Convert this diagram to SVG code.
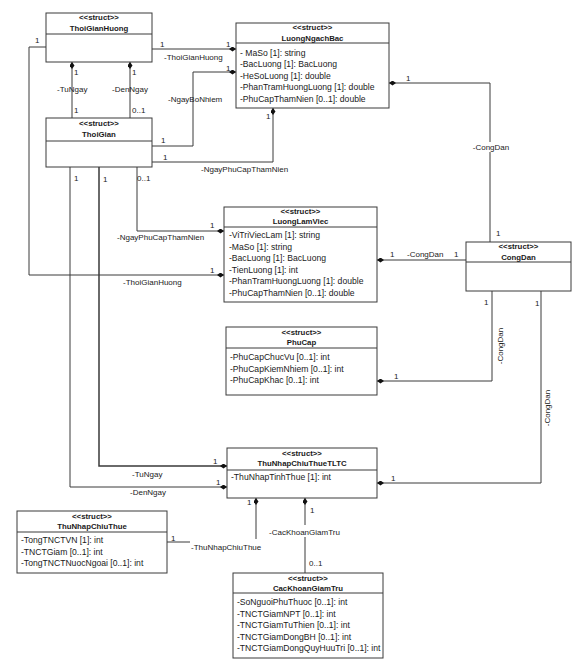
<svg xmlns="http://www.w3.org/2000/svg" width="576" height="670" viewBox="0 0 576 670">
<defs>
<marker id="dia" viewBox="0 0 7 5" refX="7" refY="2.5" markerWidth="7" markerHeight="5" markerUnits="userSpaceOnUse" orient="auto-start-reverse">
<path d="M0,2.5 L3.5,0 L7,2.5 L3.5,5 Z" fill="#111"/>
</marker>
<style>
text{font-family:"Liberation Sans",Arial,sans-serif;fill:#1a1a1a}
.box{fill:#fff;stroke:#3a3a3a;stroke-width:1}
.sep{stroke:#3a3a3a;stroke-width:1}
.st{font-size:7.8px;font-weight:bold;text-anchor:middle}
.at{font-size:8.6px}
.lb{font-size:8px}
.c{fill:none;stroke:#3a3a3a;stroke-width:1}
.bg{fill:#fff}
</style>
</defs>
<rect width="576" height="670" fill="#fff"/>

<g id="connectors">
<path class="c" d="M72,118 L72,62" marker-end="url(#dia)"/>
<path class="c" d="M130,118 L130,62" marker-end="url(#dia)"/>
<path class="c" d="M46,47 L29,47 L29,275 L224,275" marker-end="url(#dia)"/>
<path class="c" d="M152,49 L236,49" marker-end="url(#dia)"/>
<path class="c" d="M152,146 L193,146 L193,72 L236,72" marker-end="url(#dia)"/>
<path class="c" d="M152,162 L273,162 L273,108" marker-end="url(#dia)"/>
<path class="c" d="M490,242 L490,83 L389,83" marker-end="url(#dia)"/>
<path class="c" d="M466,260 L377,260" marker-end="url(#dia)"/>
<path class="c" d="M137,167 L137,231 L224,231" marker-end="url(#dia)"/>
<path class="c" d="M99,167 L99,466 L227,466" marker-end="url(#dia)" style="stroke-width:1.5"/>
<path class="c" d="M70,167 L70,487 L227,487" marker-end="url(#dia)"/>
<path class="c" d="M492,291 L492,381 L377,381" marker-end="url(#dia)"/>
<path class="c" d="M541,291 L541,483 L377,483" marker-end="url(#dia)"/>
<path class="c" d="M167,542 L256,542 L256,498" marker-end="url(#dia)"/>
<path class="c" d="M305,573 L305,498" marker-end="url(#dia)"/>

<text class="lb" x="74" y="75">1</text>
<text class="lb" x="57" y="92">-TuNgay</text>
<text class="lb" x="74" y="113">1</text>
<text class="lb" x="132" y="75">1</text>
<text class="lb" x="112" y="92">-DenNgay</text>
<text class="lb" x="132" y="113">0..1</text>

<text class="lb" x="35" y="43">1</text>
<text class="lb" x="123" y="285">-ThoiGianHuong</text>
<text class="lb" x="210" y="273">1</text>

<text class="lb" x="160" y="47">1</text>
<text class="lb" x="164" y="60">-ThoiGianHuong</text>
<text class="lb" x="226" y="47">1</text>

<text class="lb" x="161" y="143">1</text>
<text class="lb" x="168" y="102">-NgayBoNhiem</text>
<text class="lb" x="226" y="71">1</text>

<text class="lb" x="163" y="160">1</text>
<text class="lb" x="201" y="172">-NgayPhuCapThamNien</text>
<text class="lb" x="266" y="119">1</text>

<text class="lb" x="406" y="81">1</text>
<rect class="bg" x="472" y="142" width="38" height="10"/>
<text class="lb" x="491" y="150" text-anchor="middle">-CongDan</text>
<text class="lb" x="496" y="236">1</text>

<text class="lb" x="390" y="257">1</text>
<text class="lb" x="407" y="257">-CongDan</text>
<text class="lb" x="454" y="257">1</text>

<text class="lb" x="137" y="181">0..1</text>
<text class="lb" x="210" y="228">1</text>
<text class="lb" x="117" y="240">-NgayPhuCapThamNien</text>

<text class="lb" x="103" y="182">1</text>
<text class="lb" x="213" y="464">1</text>
<text class="lb" x="132" y="477">-TuNgay</text>

<text class="lb" x="74" y="181">1</text>
<text class="lb" x="216" y="485">1</text>
<text class="lb" x="130" y="495">-DenNgay</text>

<text class="lb" x="484" y="305">1</text>
<text class="lb" x="394" y="379">1</text>
<text class="lb" transform="translate(503,346) rotate(-90)" text-anchor="middle">-CongDan</text>

<text class="lb" x="535" y="306">1</text>
<text class="lb" x="391" y="481">1</text>
<text class="lb" transform="translate(550,408) rotate(-90)" text-anchor="middle">-CongDan</text>

<text class="lb" x="247" y="505">1</text>
<text class="lb" x="171" y="541">1</text>
<rect class="bg" x="190" y="539" width="72" height="14"/>
<text class="lb" x="191" y="550">-ThuNhapChiuThue</text>

<text class="lb" x="310" y="513">1</text>
<rect class="bg" x="267" y="525" width="76" height="12"/>
<text class="lb" x="269" y="535">-CacKhoanGiamTru</text>
<text class="lb" x="309" y="566">0..1</text>
</g>

<g id="ThoiGianHuong">
<rect class="box" x="46" y="13" width="106" height="49"/>
<line class="sep" x1="46" y1="34" x2="152" y2="34"/>
<text class="st" x="99" y="20">&lt;&lt;struct&gt;&gt;</text>
<text class="st" x="99" y="31">ThoiGianHuong</text>
</g>

<g id="ThoiGian">
<rect class="box" x="46" y="118" width="106" height="49"/>
<line class="sep" x1="46" y1="141" x2="152" y2="141"/>
<text class="st" x="99" y="126">&lt;&lt;struct&gt;&gt;</text>
<text class="st" x="99" y="136.5">ThoiGian</text>
</g>

<g id="LuongNgachBac">
<rect class="box" x="236" y="23" width="153" height="85"/>
<line class="sep" x1="236" y1="43" x2="389" y2="43"/>
<text class="st" x="312.5" y="30">&lt;&lt;struct&gt;&gt;</text>
<text class="st" x="312.5" y="40.5">LuongNgachBac</text>
<text class="at" x="240" y="55.5">- MaSo [1]: string</text>
<text class="at" x="240" y="67">-BacLuong [1]: BacLuong</text>
<text class="at" x="240" y="78.5">-HeSoLuong [1]: double</text>
<text class="at" x="240" y="90">-PhanTramHuongLuong [1]: double</text>
<text class="at" x="240" y="101.5">-PhuCapThamNien [0..1]: double</text>
</g>

<g id="LuongLamViec">
<rect class="box" x="224" y="207" width="153" height="95"/>
<line class="sep" x1="224" y1="227" x2="377" y2="227"/>
<text class="st" x="300.5" y="214">&lt;&lt;struct&gt;&gt;</text>
<text class="st" x="300.5" y="224">LuongLamViec</text>
<text class="at" x="229" y="238">-ViTriViecLam [1]: string</text>
<text class="at" x="229" y="249.5">-MaSo [1]: string</text>
<text class="at" x="229" y="261">-BacLuong [1]: BacLuong</text>
<text class="at" x="229" y="272.5">-TienLuong [1]: int</text>
<text class="at" x="229" y="284">-PhanTramHuongLuong [1]: double</text>
<text class="at" x="229" y="295.5">-PhuCapThamNien [0..1]: double</text>
</g>

<g id="CongDan">
<rect class="box" x="466" y="242" width="105" height="49"/>
<line class="sep" x1="466" y1="262" x2="571" y2="262"/>
<text class="st" x="518.5" y="249">&lt;&lt;struct&gt;&gt;</text>
<text class="st" x="518.5" y="259.5">CongDan</text>
</g>

<g id="PhuCap">
<rect class="box" x="226" y="327" width="151" height="68"/>
<line class="sep" x1="226" y1="348" x2="377" y2="348"/>
<text class="st" x="301.5" y="335">&lt;&lt;struct&gt;&gt;</text>
<text class="st" x="301.5" y="345">PhuCap</text>
<text class="at" x="230" y="360">-PhuCapChucVu [0..1]: int</text>
<text class="at" x="230" y="371.5">-PhuCapKiemNhiem [0..1]: int</text>
<text class="at" x="230" y="383">-PhuCapKhac [0..1]: int</text>
</g>

<g id="ThuNhapChiuThueTLTC">
<rect class="box" x="227" y="448" width="150" height="50"/>
<line class="sep" x1="227" y1="470" x2="377" y2="470"/>
<text class="st" x="302" y="456">&lt;&lt;struct&gt;&gt;</text>
<text class="st" x="302" y="466">ThuNhapChiuThueTLTC</text>
<text class="at" x="231" y="480">-ThuNhapTinhThue [1]: int</text>
</g>

<g id="ThuNhapChiuThue">
<rect class="box" x="17" y="511" width="150" height="62"/>
<line class="sep" x1="17" y1="532" x2="167" y2="532"/>
<text class="st" x="92" y="519">&lt;&lt;struct&gt;&gt;</text>
<text class="st" x="92" y="528.5">ThuNhapChiuThue</text>
<text class="at" x="21" y="543">-TongTNCTVN [1]: int</text>
<text class="at" x="21" y="554.5">-TNCTGiam [0..1]: int</text>
<text class="at" x="21" y="566">-TongTNCTNuocNgoai [0..1]: int</text>
</g>

<g id="CacKhoanGiamTru">
<rect class="box" x="233" y="573" width="150" height="85"/>
<line class="sep" x1="233" y1="593" x2="383" y2="593"/>
<text class="st" x="308" y="581">&lt;&lt;struct&gt;&gt;</text>
<text class="st" x="308" y="590.5">CacKhoanGiamTru</text>
<text class="at" x="237" y="605">-SoNguoiPhuThuoc [0..1]: int</text>
<text class="at" x="237" y="616.5">-TNCTGiamNPT [0..1]: int</text>
<text class="at" x="237" y="628">-TNCTGiamTuThien [0..1]: int</text>
<text class="at" x="237" y="639.5">-TNCTGiamDongBH [0..1]: int</text>
<text class="at" x="237" y="651">-TNCTGiamDongQuyHuuTri [0..1]: int</text>
</g>
</svg>
